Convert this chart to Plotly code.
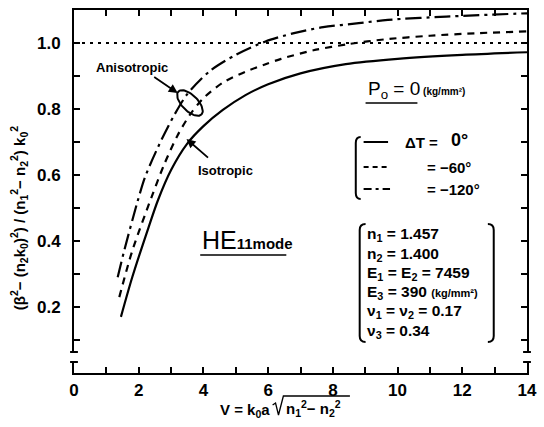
import plotly.graph_objects as go
import numpy as np

# ---- data ----
V_iso = [1.45, 1.8, 2.3, 2.6, 3.0, 3.5, 4.0, 4.6, 5.3, 6.0, 7.0, 8.4, 10.0, 12.0, 14.0]
Y_iso = [0.17, 0.29, 0.44, 0.525, 0.615, 0.695, 0.748, 0.797, 0.842, 0.875, 0.908, 0.936, 0.952, 0.964, 0.972]

V_m60 = [1.4, 1.8, 2.4, 2.8, 3.2, 3.6, 4.0, 4.6, 5.3, 5.9, 6.4, 7.4, 8.5, 9.6, 11.0, 12.5, 14.0]
Y_m60 = [0.23, 0.37, 0.534, 0.635, 0.72, 0.785, 0.833, 0.88, 0.913, 0.935, 0.952, 0.978, 0.997, 1.011, 1.022, 1.03, 1.035]

V_m120 = [1.35, 1.55, 1.95, 2.2, 2.7, 3.1, 3.5, 4.2, 5.0, 5.9, 6.8, 7.7, 8.8, 9.7, 11.5, 14.0]
Y_m120 = [0.29, 0.37, 0.515, 0.595, 0.706, 0.782, 0.845, 0.915, 0.964, 1.004, 1.03, 1.048, 1.06, 1.07, 1.08, 1.09]

ref_x = [0, 14]
ref_y = [1.0, 1.0]

x_tickvals = list(range(0, 15))
x_ticktext = [str(v) if v % 2 == 0 else "" for v in x_tickvals]
y_tickvals = [0.1, 0.2, 0.3, 0.4, 0.5, 0.6, 0.7, 0.8, 0.9, 1.0]
y_ticktext = ["", "0.2", "", "0.4", "", "0.6", "", "0.8", "", "1.0"]

# ---- geometry helpers (pixel -> paper / data) for decorations ----
W, H = 544, 427
ML, MR, MT, MB = 74, 7, 10, 54
PW, PH = W - ML - MR, H - MT - MB
XR = [0, 14]
YR = [0, 1.1]
def px_(p):
    return (p - ML) / PW
def py_(p):
    return (H - MB - p) / PH
def dx(p):
    return XR[0] + px_(p) * (XR[1] - XR[0])
def dy(p):
    return YR[0] + py_(p) * (YR[1] - YR[0])

FONT = "Liberation Sans"

fig = go.Figure()
fig.add_trace(go.Scatter(x=ref_x, y=ref_y, mode="lines",
                         line=dict(color="black", width=2, dash="3px,5px"), hoverinfo="skip"))
fig.add_trace(go.Scatter(x=V_iso, y=Y_iso, mode="lines", line_shape="spline",
                         line=dict(color="black", width=2.2, smoothing=0.8), name="ΔT=0"))
fig.add_trace(go.Scatter(x=V_m60, y=Y_m60, mode="lines", line_shape="spline",
                         line=dict(color="black", width=2.2, dash="7px,6px", smoothing=0.8), name="ΔT=-60"))
fig.add_trace(go.Scatter(x=V_m120, y=Y_m120, mode="lines", line_shape="spline",
                         line=dict(color="black", width=2.2, dash="16px,5px,3px,5px", smoothing=0.8), name="ΔT=-120"))

# ellipse around anisotropic curves
t = np.linspace(0, 2 * np.pi, 60)
cx, cy, a, b, ang = 192.5, 103, 16.5, 8, np.deg2rad(44)
ex = cx + a * np.cos(t) * np.cos(ang) - b * np.sin(t) * np.sin(ang)
ey = cy + a * np.cos(t) * np.sin(ang) + b * np.sin(t) * np.cos(ang)
fig.add_trace(go.Scatter(x=[dx(p) for p in ex], y=[dy(p) for p in ey], mode="lines",
                         line=dict(color="black", width=2), hoverinfo="skip"))

shapes = []
def hline(x0, x1, y, dash="solid", w=2):
    shapes.append(dict(type="line", xref="paper", yref="paper", x0=px_(x0), x1=px_(x1), y0=py_(y), y1=py_(y),
                       line=dict(color="black", width=w, dash=dash), layer="above"))

def P(x, y):
    return f"{px_(x):.5f},{py_(y):.5f}"

def path_px(cmd, w=2):
    shapes.append(dict(type="path", xref="paper", yref="paper", path=cmd,
                       line=dict(color="black", width=w), layer="above"))

# legend samples
hline(370, 395, 142)
hline(370, 397, 167, dash="5px,4px")
hline(370, 397, 189, dash="8px,4px,3px,4px")

# legend brace
path_px(f"M{P(367,137)} Q{P(362,137)} {P(362,143)} L{P(362,193)} Q{P(362,199)} {P(367,199)}")
# parameter box brackets
path_px(f"M{P(372,224)} Q{P(366,224)} {P(366,230)} L{P(366,336)} Q{P(366,342)} {P(372,342)}")
path_px(f"M{P(497,224)} Q{P(503,224)} {P(503,230)} L{P(503,336)} Q{P(503,342)} {P(497,342)}")

# underlines
hline(203, 291, 255, w=1.5)
hline(372, 425, 103, w=1.5)
# sqrt sign + overline in x title
path_px(f"M{P(277,405)} L{P(280,403)} L{P(283,415)} L{P(288,396)} L{P(356,396)}", w=1.3)

# axis break (left and right)
for xp in (ML, W - MR):
    shapes.append(dict(type="rect", xref="paper", yref="paper", x0=px_(xp - 5), x1=px_(xp + 5),
                       y0=py_(362), y1=py_(352), fillcolor="white", line=dict(width=0), layer="above"))
    hline(xp - 4, xp + 4, 352, w=2)
    hline(xp - 4, xp + 4, 362, w=2)

ann = []
def text(x, y, s, size=14, xanchor="center", weight="bold", angle=0):
    ann.append(dict(x=px_(x), y=py_(y), xref="paper", yref="paper", text=s, showarrow=False,
                    xanchor=xanchor, yanchor="middle", textangle=angle,
                    font=dict(size=size, color="black", family=FONT, weight=weight)))

text(133, 67, "Anisotropic", 13)
text(229, 170, "Isotropic", 13)
text(203, 240, "<span style='font-size:25px;font-weight:normal'>HE</span><span style='font-size:15px'>11mode</span>", 15, "left")
text(372, 90, "<span style='font-size:19px;font-weight:normal'>P<sub>o</sub> = 0</span><span style='font-size:10px'> (kg/mm²)</span>", 18, "left")
text(410, 142, "ΔT =", 15, "left")
text(457, 140, "0°", 18, "left")
text(433, 167, "= −60°", 15, "left")
text(433, 189, "= −120°", 15, "left")

params = ["n<sub>1</sub> = 1.457", "n<sub>2</sub> = 1.400", "E<sub>1</sub> = E<sub>2</sub> = 7459",
          "E<sub>3</sub> = 390 <span style='font-size:11px'>(kg/mm²)</span>",
          "ν<sub>1</sub> = ν<sub>2</sub> = 0.17", "ν<sub>3</sub> = 0.34"]
for i, s in enumerate(params):
    text(371, 235 + i * 19.2, s, 15.5, "left")

# arrows
ann.append(dict(x=px_(180), y=py_(93), xref="paper", yref="paper", ax=-25, ay=-17, text="", showarrow=True,
                arrowhead=2, arrowsize=1, arrowwidth=1.8, arrowcolor="black"))
ann.append(dict(x=px_(189), y=py_(139), xref="paper", yref="paper", ax=23, ay=20, text="", showarrow=True,
                arrowhead=2, arrowsize=1, arrowwidth=1.8, arrowcolor="black"))

# axis titles
text(17, 218, "(β<sup>2</sup>− (n<sub>2</sub>k<sub>0</sub>)<sup>2</sup>) / (n<sub>1</sub><sup>2</sup>− n<sub>2</sub><sup>2</sup>) k<sub>0</sub><sup>2</sup>",
     15, "center", angle=-90)
text(276, 410, "V = k<sub>0</sub>a", 15, "right")
text(289, 408, "n<sub>1</sub><sup>2</sup>− n<sub>2</sub><sup>2</sup>", 15, "left")

fig.update_layout(
    width=W, height=H,
    margin=dict(l=ML, r=MR, t=MT, b=MB),
    paper_bgcolor="white", plot_bgcolor="white",
    showlegend=False,
    shapes=shapes, annotations=ann,
    font=dict(family=FONT, size=15, color="black", weight="bold"),
    xaxis=dict(range=XR, tickvals=x_tickvals, ticktext=x_ticktext, ticks="inside", ticklen=6,
               tickwidth=1.5, tickcolor="black", showline=True, linewidth=2, linecolor="black",
               mirror="ticks", showgrid=False, zeroline=False, fixedrange=True, ticklabelstandoff=1,
               ticklabeloverflow="allow",
               tickfont=dict(size=17, family=FONT, weight="bold")),
    yaxis=dict(range=YR, tickvals=y_tickvals, ticktext=y_ticktext, ticks="inside", ticklen=6,
               tickwidth=1.5, tickcolor="black", showline=True, linewidth=2, linecolor="black",
               mirror="ticks", showgrid=False, zeroline=False, fixedrange=True, ticklabelstandoff=8,
               ticklabeloverflow="allow",
               tickfont=dict(size=17, family=FONT, weight="bold")),
)

fig.write_html("out.html")
